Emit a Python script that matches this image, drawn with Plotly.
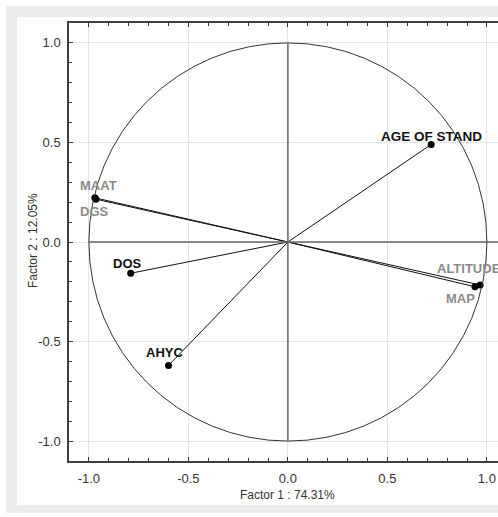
import plotly.graph_objects as go

# ---- data ----
variables = ["AGE OF STAND", "MAAT", "DGS", "DOS", "AHYC", "ALTITUDE", "MAP"]
factor1 = [0.72, -0.97, -0.965, -0.79, -0.60, 0.966, 0.94]
factor2 = [0.49, 0.222, 0.215, -0.157, -0.62, -0.216, -0.225]
tick_vals = [-1.0, -0.5, 0.0, 0.5, 1.0]
tick_text = ["-1.0", "-0.5", "0.0", "0.5", "1.0"]
x_title = "Factor 1 : 74.31%"
y_title = "Factor 2 : 12.05%"

# ---- styles ----
label_style = {
    "AGE OF STAND": dict(color="#111111", dx=0, dy=8, size=13.5),
    "MAAT": dict(color="#8a8a8a", dx=4, dy=12, size=13),
    "DGS": dict(color="#8a8a8a", dx=-1, dy=-12, size=13),
    "DOS": dict(color="#111111", dx=-3, dy=10, size=13),
    "AHYC": dict(color="#111111", dx=-4, dy=13, size=13),
    "ALTITUDE": dict(color="#8a8a8a", dx=-11, dy=17, size=13),
    "MAP": dict(color="#8a8a8a", dx=-14, dy=-12, size=13),
}
FONT = "Liberation Sans, Arial, sans-serif"

W, H = 498, 517
ML, MR, MT, MB = 69, 0, 23, 56
pw, ph = W - ML - MR, H - MT - MB


def px_to_paper_x(px):
    return (px - ML) / pw


def px_to_paper_y(py):
    return (H - MB - py) / ph


fig = go.Figure()

for name, xv, yv in zip(variables, factor1, factor2):
    fig.add_trace(go.Scatter(x=[0, xv], y=[0, yv], mode="lines",
                             line=dict(color="#111111", width=1),
                             hoverinfo="skip", showlegend=False))

fig.add_trace(go.Scatter(x=factor1, y=factor2, mode="markers",
                         marker=dict(color="#000000", size=7),
                         text=variables, showlegend=False))

annotations = []
for name, xv, yv in zip(variables, factor1, factor2):
    st = label_style[name]
    annotations.append(dict(x=xv, y=yv, xref="x", yref="y", text=name,
                            showarrow=False, xshift=st["dx"], yshift=st["dy"],
                            xanchor="center", yanchor="middle",
                            font=dict(family=FONT, size=st["size"], color=st["color"],
                                      weight="bold")))

annotations.append(dict(x=px_to_paper_x(287), y=px_to_paper_y(495), xref="paper",
                        yref="paper", text=x_title, showarrow=False,
                        xanchor="center", yanchor="middle",
                        font=dict(family=FONT, size=12, color="#333333")))
annotations.append(dict(x=px_to_paper_x(33), y=px_to_paper_y(241), xref="paper",
                        yref="paper", text=y_title, showarrow=False, textangle=-90,
                        xanchor="center", yanchor="middle",
                        font=dict(family=FONT, size=12, color="#333333")))

shapes = [
    # outer gray frame
    dict(type="rect", xref="paper", yref="paper",
         x0=px_to_paper_x(6), x1=px_to_paper_x(540),
         y0=px_to_paper_y(513), y1=px_to_paper_y(6),
         fillcolor="#ececec", line=dict(width=0), layer="below"),
    dict(type="rect", xref="paper", yref="paper",
         x0=px_to_paper_x(17), x1=px_to_paper_x(540),
         y0=px_to_paper_y(505), y1=px_to_paper_y(17),
         fillcolor="#ffffff", line=dict(width=0), layer="below"),
    # unit circle
    dict(type="circle", xref="x", yref="y", x0=-1, y0=-1, x1=1, y1=1,
         line=dict(color="#333333", width=1)),
    # axes through origin
    dict(type="line", xref="x", yref="y", x0=-1, x1=1.1, y0=0, y1=0,
         line=dict(color="#666666", width=1.5)),
    dict(type="line", xref="x", yref="y", x0=0, x1=0, y0=-1, y1=1,
         line=dict(color="#666666", width=1.5)),
]

axis_common = dict(
    tickmode="array", tickvals=tick_vals, ticktext=tick_text,
    ticks="inside", ticklen=4, tickcolor="#333333", tickwidth=1,
    showline=True, linecolor="#404040", linewidth=1.5,
    showgrid=True, gridcolor="#e4e4e4", gridwidth=1, zeroline=False,
    tickfont=dict(family=FONT, size=13, color="#333333"),
    minor=dict(dtick=0.1, tick0=0, ticks="inside", ticklen=3,
               tickcolor="#333333", showgrid=False),
)

fig.update_xaxes(range=[-1.1, -1.1 + pw / 199.0], ticklabelstandoff=5,
                 mirror="ticks", **axis_common)
fig.update_yaxes(range=[-1.1, 1.1], ticklabelstandoff=4, mirror=False,
                 **axis_common)

fig.update_layout(
    width=W, height=H, margin=dict(l=ML, r=MR, t=MT, b=MB, autoexpand=False),
    paper_bgcolor="#ffffff", plot_bgcolor="#ffffff",
    shapes=shapes, annotations=annotations, showlegend=False,
    font=dict(family=FONT),
)

fig.write_html("out.html", config={"displayModeBar": False},
               post_script="document.documentElement.style.overflow='hidden';"
                           "document.documentElement.style.margin='0px';"
                           "document.body.style.margin='0px';"
                           "document.body.style.overflow='hidden';")
